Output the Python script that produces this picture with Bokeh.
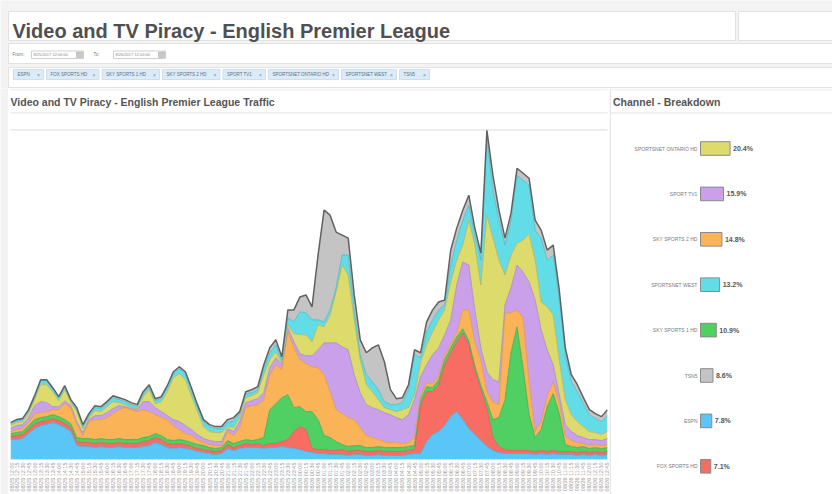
import math
import pandas as pd
from bokeh.plotting import figure
from bokeh.models import (ColumnDataSource, Range1d, FixedTicker, DatetimeTickFormatter)
from bokeh.layouts import column, row
from bokeh.core.properties import value
from bokeh.embed import file_html
from bokeh.resources import INLINE

FONT = "Liberation Sans"
BG = "#f3f3f3"

# ---------------- data ----------------
PAGE_TITLE = "Video and TV Piracy - English Premier League"
CHART_TITLE = "Video and TV Piracy - English Premier League Traffic"
BREAK_TITLE = "Channel - Breakdown"
FROM_TEXT = "8/25/2017 12:00:00"
TO_TEXT = "8/26/2017 12:00:00"

CHANNELS = ["ESPN", "FOX SPORTS HD", "SKY SPORTS 1 HD", "SKY SPORTS 2 HD",
            "SPORT TV1", "SPORTSNET ONTARIO HD", "SPORTSNET WEST", "TSN5"]
COLORS = ["#5ac6f7", "#f76d64", "#50cf62", "#fab457", "#c9a0e9",
          "#dcdb6b", "#62dde8", "#c4c4c4"]
EDGES = ["#4aa9d6", "#d65a52", "#3fa84f", "#d99a48", "#a887c6",
         "#b5b45a", "#4ab7c1", "#616161"]

START = "2017-08-25 12:00"
N_POINTS = 100

espn = [20, 20, 21, 26, 31, 34, 35, 37, 35, 32, 28, 14, 13, 13, 12, 13, 12, 12, 13, 12,
        12, 12, 13, 14, 17, 15, 12, 11, 12, 11, 10, 8, 7, 6, 5, 6, 11, 9, 11, 12,
        12, 12, 11, 12, 12, 13, 12, 11, 10, 8, 7, 6, 6, 5, 5, 5, 4, 5, 5, 4,
        4, 5, 4, 4, 4, 4, 5, 6, 6, 18, 25, 28, 34, 43, 48, 40, 31, 25, 19, 13,
        9, 7, 6, 6, 6, 6, 6, 5, 6, 5, 6, 5, 5, 5, 4, 5, 4, 5, 4, 5]
fox = [3, 4, 4, 4, 5, 4, 4, 4, 4, 4, 4, 4, 4, 4, 4, 4, 4, 4, 4, 4,
       4, 4, 5, 5, 5, 5, 4, 4, 4, 4, 3, 3, 3, 3, 3, 3, 4, 3, 3, 4,
       3, 4, 3, 4, 4, 5, 8, 17, 23, 22, 4, 4, 4, 4, 4, 5, 4, 4, 4, 4,
       4, 4, 4, 4, 4, 4, 4, 4, 49, 50, 43, 47, 61, 64, 70, 87, 84, 65, 51, 39,
       13, 6, 4, 3, 3, 3, 3, 3, 3, 3, 3, 3, 3, 3, 3, 3, 3, 3, 3, 3]
sky1 = [3, 3, 3, 4, 4, 4, 4, 4, 4, 4, 4, 4, 4, 4, 4, 4, 4, 4, 4, 4,
        4, 4, 4, 4, 4, 4, 4, 4, 4, 4, 4, 4, 4, 3, 3, 3, 4, 4, 4, 4,
        4, 4, 8, 34, 40, 44, 45, 24, 20, 18, 37, 30, 14, 13, 9, 5, 5, 5, 5, 4,
        4, 4, 4, 4, 4, 4, 4, 4, 5, 5, 4, 5, 5, 5, 5, 4, 4, 4, 4, 6,
        18, 29, 50, 98, 124, 83, 36, 14, 21, 45, 57, 38, 7, 5, 5, 5, 4, 4, 4, 4]
sky2 = [2, 3, 3, 3, 6, 5, 5, 5, 7, 16, 16, 14, 3, 17, 20, 19, 22, 26, 29, 32,
        30, 28, 28, 25, 19, 18, 20, 15, 10, 7, 7, 5, 3, 3, 3, 2, 9, 8, 14, 32,
        35, 35, 38, 35, 39, 28, 63, 60, 47, 48, 45, 52, 61, 46, 32, 31, 29, 26, 18, 12,
        10, 7, 6, 5, 5, 4, 4, 8, 4, 4, 4, 4, 4, 4, 4, 19, 31, 24, 26, 10,
        18, 13, 87, 40, 17, 50, 33, 6, 8, 11, 12, 11, 9, 6, 5, 3, 3, 3, 3, 3]
tv1 = [3, 4, 4, 5, 8, 11, 9, 3, 3, 3, 2, 2, 3, 2, 4, 4, 5, 5, 4, 1,
       1, 2, 8, 10, 7, 6, 4, 6, 8, 8, 6, 5, 4, 4, 4, 4, 3, 4, 6, 5,
       5, 6, 7, 7, 7, 5, 4, 6, 6, 8, 11, 18, 32, 49, 67, 67, 68, 45, 35, 31,
       30, 30, 29, 28, 25, 24, 28, 38, 19, 18, 29, 28, 21, 24, 48, 48, 45, 32, 12, 20,
       22, 23, 8, 25, 45, 46, 100, 132, 92, 46, 17, 8, 11, 9, 7, 6, 6, 5, 5, 6]
ontario = [3, 3, 3, 4, 6, 17, 18, 15, 6, 11, 3, 10, 4, 2, 5, 4, 6, 7, 3, 2,
           1, 1, 5, 12, 4, 10, 24, 42, 48, 46, 34, 23, 12, 9, 9, 9, 2, 4, 4, 5,
           5, 6, 18, 8, 6, 1, 3, 8, 19, 21, 14, 25, 16, 28, 51, 82, 75, 55, 33, 20,
           16, 10, 5, 5, 6, 10, 7, 5, 14, 20, 23, 28, 25, 38, 25, 17, 45, 65, 63, 157,
           142, 122, 30, 33, 22, 32, 48, 40, 28, 43, 50, 35, 25, 17, 14, 11, 8, 7, 6, 7]
west = [2, 2, 2, 3, 3, 4, 4, 3, 3, 3, 2, 2, 2, 2, 3, 3, 3, 4, 3, 3,
        3, 2, 3, 3, 3, 3, 4, 4, 5, 6, 5, 5, 5, 5, 4, 4, 4, 7, 4, 4,
        3, 3, 6, 7, 7, 4, 7, 12, 23, 22, 22, 5, 5, 5, 4, 10, 20, 10, 5, 10,
        10, 10, 6, 5, 7, 7, 18, 40, 5, 13, 12, 10, 5, 17, 20, 25, 15, 10, 25, 77,
        48, 40, 30, 35, 68, 60, 49, 30, 64, 47, 60, 60, 45, 33, 30, 23, 17, 14, 13, 16]
tsn5 = [1, 1, 1, 1, 1, 1, 1, 1, 1, 1, 1, 2, 2, 2, 2, 2, 2, 2, 2, 2,
        2, 2, 2, 2, 2, 2, 2, 2, 2, 2, 3, 2, 2, 2, 2, 2, 3, 3, 2, 2,
        3, 3, 4, 5, 5, 3, 8, 12, 15, 18, 13, 65, 112, 95, 56, 20, 17, 15, 15, 22,
        34, 45, 40, 15, 6, 5, 5, 5, 5, 10, 10, 8, 5, 15, 12, 10, 10, 7, 7, 8,
        15, 10, 7, 7, 7, 7, 7, 10, 8, 10, 10, 10, 7, 7, 7, 6, 5, 5, 5, 6]
SERIES = [espn, fox, sky1, sky2, tv1, ontario, west, tsn5]

BREAK_LABELS = ["SPORTSNET ONTARIO HD", "SPORT TV1", "SKY SPORTS 2 HD", "SPORTSNET WEST",
                "SKY SPORTS 1 HD", "TSN5", "ESPN", "FOX SPORTS HD"]
BREAK_PCT = [20.4, 15.9, 14.8, 13.2, 10.9, 8.6, 7.8, 7.1]


def bare(fig):
    fig.xgrid.visible = False
    fig.ygrid.visible = False
    fig.outline_line_color = None


def txt(fig, x, y, s, size, color="#555555", bold=False, align="left",
        baseline="middle", **kw):
    fig.text(x=[x], y=[y], text=[s], text_font=value(FONT), text_font_size=size,
             text_font_style="bold" if bold else "normal", text_color=color,
             text_align=align, text_baseline=baseline, **kw)


# ---------------- header (whole width) ----------------
W, H = 832, 494
HH = 88
hdr = figure(width=W, height=HH, x_range=Range1d(0, W), y_range=Range1d(HH, 0),
             x_axis_location=None, y_axis_location=None, output_backend="svg",
             toolbar_location=None, min_border=0)
bare(hdr)
hdr.background_fill_color = BG
hdr.border_fill_color = BG
hdr.quad(left=[8, 738, 8, 8], right=[735, W + 2, W + 2, W + 2],
         top=[11, 11, 43, 67], bottom=[40, 40, 63, 87],
         fill_color="white", line_color="#e2e2e2", line_width=1)
txt(hdr, 12, 30.5, PAGE_TITLE, "20px", "#505050", bold=True, baseline="alphabetic")

# From / To row
txt(hdr, 12, 54, "From:", "4.5px", "#777777")
txt(hdr, 93, 54, "To:", "4.5px", "#777777")
hdr.quad(left=[31, 113], right=[83, 165], top=[50.5, 50.5], bottom=[58, 58],
         fill_color="white", line_color="#cfcfcf")
hdr.quad(left=[76, 158], right=[82, 164], top=[51.5, 51.5], bottom=[57, 57],
         fill_color="#c8c8c8", line_color="#aaaaaa", line_width=0.5)
txt(hdr, 33, 54, FROM_TEXT, "4px", "#888888")
txt(hdr, 115, 54, TO_TEXT, "4px", "#888888")

# channel chips
cx = 13.0
c_left, c_right = [], []
for lab in CHANNELS:
    w = 2.5 * len(lab) + 20
    c_left.append(cx)
    c_right.append(cx + w)
    cx += w + 3
n = len(CHANNELS)
hdr.quad(left=c_left, right=c_right, top=[69] * n, bottom=[79] * n,
         fill_color="#dcebf8", line_color="#c3d8ec", line_width=0.8)
hdr.text(x=[l + 4 for l in c_left], y=[74] * n, text=CHANNELS,
         text_font=value(FONT), text_font_size="4.5px", text_color="#5a6f85",
         text_baseline="middle")
hdr.text(x=[r - 5 for r in c_right], y=[74] * n, text=["\u00d7"] * n,
         text_font=value(FONT), text_font_size="5px", text_color="#7a8ea3",
         text_baseline="middle", text_align="center")

# ---------------- left gray strip ----------------
BH = H - HH  # 406
strip = figure(width=8, height=BH, x_range=Range1d(0, 1), y_range=Range1d(0, 1),
               x_axis_location=None, y_axis_location=None, output_backend="svg",
               toolbar_location=None, min_border=0)
bare(strip)
strip.background_fill_color = BG
strip.border_fill_color = BG

# ---------------- stacked area chart (with its panel header) ----------------
LW = 601          # window x 8 .. 609
FRAME_H = 372     # window y 88 .. 460
times = pd.date_range(START, periods=N_POINTS, freq="15min")
src = ColumnDataSource({"t": times, **{c: s for c, s in zip(CHANNELS, SERIES)}})
tick_ms = (times.astype("int64") // 10**6).tolist()

p = figure(width=LW, height=BH, x_axis_type="datetime",
           x_range=Range1d(times[0].to_pydatetime(), times[-1].to_pydatetime()),
           y_range=Range1d(0, FRAME_H), y_axis_location=None,
           output_backend="svg", toolbar_location=None,
           min_border_left=2, min_border_right=2, min_border_top=0,
           min_border_bottom=BH - FRAME_H)
bare(p)
p.border_fill_color = "white"
p.background_fill_color = "white"
# pixel-like ranges for the panel header
p.extra_x_ranges = {"px": Range1d(2, LW - 2)}
p.extra_y_ranges = {"py": Range1d(FRAME_H, 0)}
p.quad(left=[0], right=[LW], top=[0], bottom=[2], fill_color=BG, line_color=None,
       x_range_name="px", y_range_name="py")
p.segment(x0=[0, 0], x1=[LW, LW], y0=[24.5, 41.5], y1=[24.5, 41.5],
          line_color=["#e3e3e3", "#dadada"], line_width=1,
          x_range_name="px", y_range_name="py")
txt(p, 2, 13.5, CHART_TITLE, "10.5px", "#555555", bold=True,
    x_range_name="px", y_range_name="py")

p.varea_stack(stackers=CHANNELS, x="t", color=COLORS, source=src)
p.vline_stack(stackers=CHANNELS, x="t", color=EDGES,
              line_width=[0.8] * 7 + [1.5], source=src)
fmt = "%m/%d %H:%M"
p.xaxis.ticker = FixedTicker(ticks=tick_ms)
p.xaxis.formatter = DatetimeTickFormatter(seconds=fmt, minsec=fmt, minutes=fmt, hourmin=fmt,
                                          hours=fmt, days=fmt, months=fmt, years=fmt)
p.xaxis.major_label_orientation = math.pi / 2
p.xaxis.major_label_text_font = FONT
p.xaxis.major_label_text_font_size = "5.5px"
p.xaxis.major_label_text_color = "#9a9a9a"
p.xaxis.major_label_standoff = 3
p.xaxis.major_tick_line_color = None
p.xaxis.minor_tick_line_color = None
p.xaxis.major_tick_out = 0
p.xaxis.major_tick_in = 0
p.xaxis.minor_tick_out = 0
p.xaxis.minor_tick_in = 0
p.xaxis.axis_line_color = "#d8d8d8"
p.xaxis.axis_line_dash = "2 1"

# ---------------- breakdown panel ----------------
RW = W - 8 - LW   # 223, window x 609 .. 832
BAR_ORIGIN = 91   # px from panel left where bars start
PX_PER_PCT = 1.45
ROW_TOP = 60      # px below panel top to first row centre
ROW_STEP = 45.4

ys = list(range(len(BREAK_LABELS)))
color_of = dict(zip(CHANNELS, COLORS))
bsrc = ColumnDataSource({
    "y": ys,
    "label": BREAK_LABELS,
    "pct": BREAK_PCT,
    "pct_txt": [f"{v}%" for v in BREAK_PCT],
    "color": [color_of[l] for l in BREAK_LABELS],
})
y_top = -ROW_TOP / ROW_STEP
rb = figure(width=RW, height=BH,
            x_range=Range1d(-BAR_ORIGIN / PX_PER_PCT, (RW - BAR_ORIGIN) / PX_PER_PCT),
            y_range=Range1d(y_top + BH / ROW_STEP, y_top),
            x_axis_location=None, y_axis_location=None,
            output_backend="svg", toolbar_location=None, min_border=0)
bare(rb)
rb.background_fill_color = "white"
rb.border_fill_color = "white"
rb.extra_x_ranges = {"px": Range1d(0, RW)}
rb.extra_y_ranges = {"py": Range1d(BH, 0)}
rb.quad(left=[0], right=[RW], top=[0], bottom=[2], fill_color=BG, line_color=None,
        x_range_name="px", y_range_name="py")
rb.quad(left=[0], right=[1.5], top=[0], bottom=[BH], fill_color="#e6e6e6", line_color=None,
        x_range_name="px", y_range_name="py")
rb.segment(x0=[1.5], x1=[RW], y0=[24.5], y1=[24.5], line_color="#e3e3e3", line_width=1,
           x_range_name="px", y_range_name="py")
txt(rb, 3.5, 13.5, BREAK_TITLE, "10.5px", "#555555", bold=True,
    x_range_name="px", y_range_name="py")

rb.hbar(y="y", right="pct", left=0, height=0.3, fill_color="color",
        line_color="#8a8a8a", line_width=1, source=bsrc)
rb.text(x="pct", y="y", text="pct_txt", x_offset=3, source=bsrc,
        text_font=value(FONT), text_font_size="7px", text_font_style="bold",
        text_color="#555555", text_baseline="middle")
rb.text(x=0, y="y", text="label", x_offset=-3, source=bsrc,
        text_font=value(FONT), text_font_size="5px", text_color="#7a7a7a",
        text_baseline="middle", text_align="right")

# wrap each plot in its own column so the row does not align their frames
layout = column(hdr, row(column(strip), column(p), column(rb)))

with open("out.html", "w") as f:
    f.write(file_html(layout, INLINE, title=PAGE_TITLE))
